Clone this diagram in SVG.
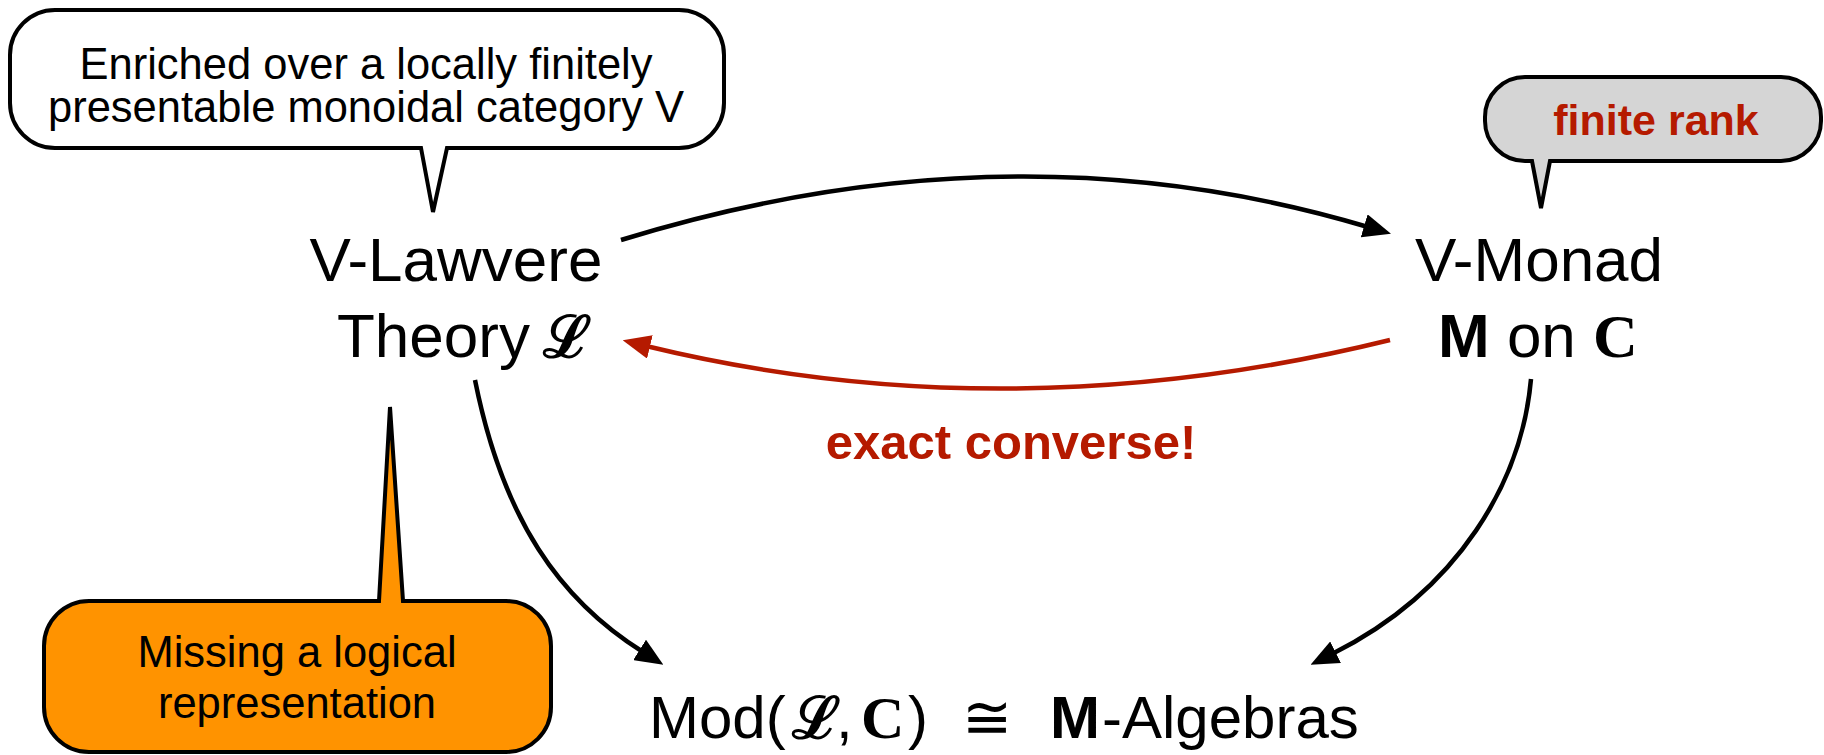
<svg xmlns="http://www.w3.org/2000/svg" width="1824" height="755" viewBox="0 0 1824 755">
  <style>
    .sans { font-family: "Liberation Sans", Arial, Helvetica, sans-serif; fill: #000; }
    .node { font-size: 62px; }
    .call { font-size: 43.5px; text-anchor: middle; }
    .red { fill: #b51a00; font-weight: bold; }
    .script { font-family: "DejaVu Serif", serif; font-style: normal; font-weight: bold; }
    .serifb { font-family: "Liberation Serif", "Times New Roman", serif; font-weight: bold; }
    .bubble { stroke: #000; stroke-width: 4; stroke-linejoin: miter; }
    .conn { fill: none; stroke-width: 4.5; }
  </style>
  <defs>
    <marker id="ah-black" markerUnits="userSpaceOnUse" markerWidth="28" markerHeight="24" viewBox="0 0 28 24" refX="4" refY="12" orient="auto">
      <path d="M0,0 L28,12 L0,24 Z" fill="#000"/>
    </marker>
    <marker id="ah-red" markerUnits="userSpaceOnUse" markerWidth="28" markerHeight="24" viewBox="0 0 28 24" refX="4" refY="12" orient="auto">
      <path d="M0,0 L28,12 L0,24 Z" fill="#b51a00"/>
    </marker>
  </defs>

  <rect width="1824" height="755" fill="#fff"/>

  <g id="connectors">
    <path class="conn" stroke="#000" d="M 621 240 Q 1010 120 1368 227" marker-end="url(#ah-black)"/>
    <path class="conn" stroke="#b51a00" d="M 1390 340 Q 1008 434 646 346" marker-end="url(#ah-red)"/>
    <path class="conn" stroke="#000" d="M 475 380 C 503 520 560 600 643 652" marker-end="url(#ah-black)"/>
    <path class="conn" stroke="#000" d="M 1531 379 C 1522 480 1460 590 1332 654" marker-end="url(#ah-black)"/>
  </g>

  <g id="callout-enriched">
    <path class="bubble" fill="#fff" stroke-width="3.5" d="M 55 10 H 679 A 45 45 0 0 1 724 55 V 103 A 45 45 0 0 1 679 148 H 447 L 433 212 L 421 148 H 55 A 45 45 0 0 1 10 103 V 55 A 45 45 0 0 1 55 10 Z"/>
    <text class="sans call" x="366" y="79">Enriched over a locally finitely</text>
    <text class="sans call" x="366" y="122">presentable monoidal category V</text>
  </g>

  <g id="callout-finite-rank">
    <path class="bubble" fill="#d5d5d5" stroke-width="3.5" d="M 1525 77 H 1781 A 40 40 0 0 1 1821 117 V 121 A 40 40 0 0 1 1781 161 H 1550 L 1541 208 L 1532 161 H 1525 A 40 40 0 0 1 1485 121 V 117 A 40 40 0 0 1 1525 77 Z"/>
    <text class="sans red" font-size="43" text-anchor="middle" x="1656" y="135">finite rank</text>
  </g>

  <g id="callout-missing">
    <path class="bubble" fill="#ff9300" d="M 89 601 H 379 L 390 407 L 403 601 H 506 A 45 45 0 0 1 551 646 V 707 A 45 45 0 0 1 506 752 H 89 A 45 45 0 0 1 44 707 V 646 A 45 45 0 0 1 89 601 Z"/>
    <text class="sans call" x="297" y="667">Missing a logical</text>
    <text class="sans call" x="297" y="718">representation</text>
  </g>

  <g id="node-lawvere">
    <text class="sans node" x="456" y="281" text-anchor="middle">V-Lawvere</text>
    <text class="sans node" x="337" y="357">Theory</text>
    <text class="script" font-size="58" x="543" y="357">ℒ</text>
  </g>

  <g id="node-monad">
    <text class="sans node" x="1539" y="281" text-anchor="middle">V-Monad</text>
    <text class="sans node" x="1438" y="357"><tspan font-weight="bold">M</tspan> on <tspan class="serifb">C</tspan></text>
  </g>

  <g id="label-exact-converse">
    <text class="sans red" font-size="49" text-anchor="middle" x="1011" y="459">exact converse!</text>
  </g>

  <g id="node-models">
    <text class="sans" font-size="60" y="738"><tspan x="649">Mod(</tspan><tspan class="script" font-size="58" x="792">ℒ</tspan><tspan x="836">,</tspan><tspan class="serifb" x="861">C</tspan><tspan x="908">)</tspan><tspan font-family="DejaVu Sans" x="962">≅</tspan><tspan font-weight="bold" x="1050">M</tspan><tspan x="1102">-Algebras</tspan></text>
  </g>
</svg>
